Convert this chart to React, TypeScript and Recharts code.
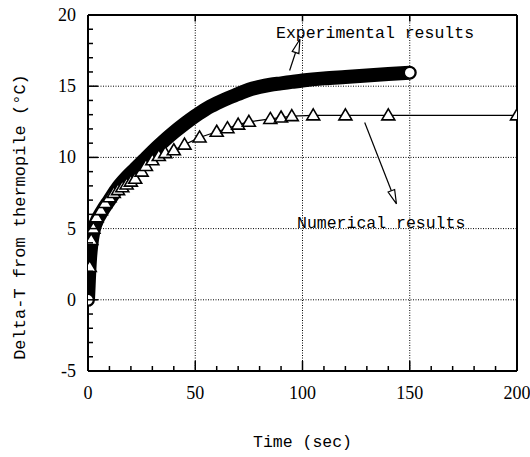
import React from "react";
import {
  LineChart,
  Line,
  XAxis,
  YAxis,
  ReferenceLine,
} from "recharts";

// experimental curve (thick black band)
const expTime = [0, 0.3, 0.6, 1, 1.5, 2.5, 4, 6.5, 10, 14, 18, 22, 26, 30, 35, 40, 45, 50, 55, 60, 65, 70, 75, 80, 85, 90, 95, 100, 110, 120, 130, 140, 150];
const expDelta = [0, 1.0, 2.0, 3.0, 3.8, 4.8, 5.5, 6.2, 7.0, 7.9, 8.6, 9.2, 9.8, 10.4, 11.1, 11.75, 12.35, 12.9, 13.4, 13.8, 14.15, 14.45, 14.75, 14.95, 15.1, 15.2, 15.3, 15.4, 15.55, 15.65, 15.75, 15.85, 15.95];

// numerical results (triangles)
const numTime = [0.8, 1.5, 2.5, 4, 6, 8, 10, 12, 14, 16, 18, 20, 22, 25, 27, 30, 33, 36, 40, 45, 52, 60, 65, 70, 75, 85, 90, 95, 105, 120, 140, 200];
const numDelta = [2.3, 4.2, 5.0, 5.8, 6.3, 6.8, 7.2, 7.5, 7.7, 7.9, 8.1, 8.3, 8.5, 9.0, 9.4, 9.8, 10.1, 10.3, 10.5, 10.9, 11.4, 11.8, 12.05, 12.3, 12.5, 12.7, 12.8, 12.9, 12.95, 12.95, 12.95, 12.95];

const xTicks = [0, 10, 20, 30, 40, 50, 60, 70, 80, 90, 100, 110, 120, 130, 140, 150, 160, 170, 180, 190, 200];
const yTicks = [-5, -4, -3, -2, -1, 0, 1, 2, 3, 4, 5, 6, 7, 8, 9, 10, 11, 12, 13, 14, 15, 16, 17, 18, 19, 20];
const xGrid = [50, 100, 150];
const yGrid = [0, 5, 10, 15];

const expData = expTime.map((t, i) => ({ t, v: expDelta[i] }));
const numData = numTime.map((t, i) => ({ t, v: numDelta[i] }));
const expEnds = [expData[0], expData[expData.length - 1]];

const MONO = "'Liberation Mono', 'DejaVu Sans Mono', monospace";
const SERIF = "'Liberation Serif', 'DejaVu Serif', serif";

const XTick = (props: any) => {
  const { x, y, payload } = props;
  const major = payload.value % 50 === 0;
  return (
    <g>
      <line x1={x} y1={y} x2={x} y2={y - (major ? 10 : 5)} stroke="#000" strokeWidth={1.5} />
      {major && (
        <text x={x} y={y + 28} textAnchor="middle" style={{ fontFamily: SERIF, fontSize: 18 }} fill="#000">
          {payload.value}
        </text>
      )}
    </g>
  );
};

const YTick = (props: any) => {
  const { x, y, payload } = props;
  const major = payload.value % 5 === 0;
  return (
    <g>
      <line x1={x} y1={y} x2={x + (major ? 10 : 5)} y2={y} stroke="#000" strokeWidth={1.5} />
      {major && (
        <text x={x - 12} y={y + 6} textAnchor="end" style={{ fontFamily: SERIF, fontSize: 18 }} fill="#000">
          {payload.value}
        </text>
      )}
    </g>
  );
};

const Triangle = (props: any) => {
  const { cx, cy, index } = props;
  if (cx == null || cy == null) return <g key={index} />;
  return (
    <path
      key={index}
      d={`M${cx},${cy - 6.5} L${cx + 6.5},${cy + 4.5} L${cx - 6.5},${cy + 4.5} Z`}
      fill="#fff"
      stroke="#000"
      strokeWidth={1.6}
    />
  );
};

const WhiteCircle = (props: any) => {
  const { cx, cy, index } = props;
  if (cx == null || cy == null) return <g key={index} />;
  return <circle key={index} cx={cx} cy={cy} r={5.5} fill="#fff" stroke="#000" strokeWidth={1.5} />;
};

const Arrow = (props: any) => {
  const { x1, y1, x2, y2 } = props;
  const dx = x2 - x1;
  const dy = y2 - y1;
  const len = Math.hypot(dx, dy) || 1;
  const ux = dx / len;
  const uy = dy / len;
  const hl = 14;
  const hw = 3.5;
  const bx = x2 - ux * hl;
  const by = y2 - uy * hl;
  const px = -uy;
  const py = ux;
  return (
    <g>
      <line x1={x1} y1={y1} x2={bx} y2={by} stroke="#000" strokeWidth={1.2} />
      <path
        d={`M${x2},${y2} L${bx + px * hw},${by + py * hw} L${bx - px * hw},${by - py * hw} Z`}
        fill="#fff"
        stroke="#000"
        strokeWidth={1.2}
      />
    </g>
  );
};

export default function App() {
  return (
    <div style={{ position: "absolute", left: 0, top: 0, width: 530, height: 457, background: "#fff" }}>
      <LineChart width={530} height={457} margin={{ top: 15, right: 13, left: 0, bottom: 0 }}>
        <XAxis
          dataKey="t"
          type="number"
          domain={[0, 200]}
          ticks={xTicks}
          interval={0}
          tickSize={0}
          tickMargin={0}
          tickLine={false}
          tick={<XTick />}
          height={86}
          axisLine={{ stroke: "#000", strokeWidth: 2 }}
          allowDataOverflow
          label={{
            value: "Time (sec)",
            position: "insideBottom",
            offset: 10,
            style: { fontFamily: MONO, fontSize: 16.5, fill: "#000" },
          }}
        />
        <YAxis
          dataKey="v"
          type="number"
          domain={[-5, 20]}
          ticks={yTicks}
          interval={0}
          tickSize={0}
          tickMargin={0}
          tickLine={false}
          tick={<YTick />}
          width={88}
          axisLine={{ stroke: "#000", strokeWidth: 2 }}
          allowDataOverflow
          label={{
            content: (p: any) => {
              const vb = p.viewBox || { x: 0, y: 15, width: 88, height: 356 };
              const cy = vb.y + vb.height / 2 + 24;
              return (
                <text
                  x={20}
                  y={cy}
                  transform={`rotate(-90 20 ${cy})`}
                  textAnchor="middle"
                  dominantBaseline="central"
                  style={{ fontFamily: MONO, fontSize: 17 }}
                  fill="#000"
                >
                  Delta-T from thermopile (°C)
                </text>
              );
            },
          }}
        />
        {xGrid.map((g) => (
          <ReferenceLine key={`gx${g}`} x={g} stroke="#000" strokeWidth={1} strokeDasharray="1 1.5" />
        ))}
        {yGrid.map((g) => (
          <ReferenceLine key={`gy${g}`} y={g} stroke="#000" strokeWidth={1} strokeDasharray="1 1.5" />
        ))}
        <ReferenceLine x={200} stroke="#000" strokeWidth={2} />
        <ReferenceLine y={20} stroke="#000" strokeWidth={2} />
        {xGrid.map((g) => (
          <ReferenceLine key={`tt${g}`} segment={[{ x: g, y: 20 }, { x: g, y: 19.55 }]} stroke="#000" strokeWidth={1.5} />
        ))}
        <Line
          data={expData}
          dataKey="v"
          type="monotone"
          stroke="#000"
          strokeWidth={14}
          strokeLinejoin="round"
          strokeLinecap="round"
          dot={false}
          isAnimationActive={false}
        />
        <Line
          data={numData}
          dataKey="v"
          type="linear"
          stroke="#000"
          strokeWidth={1.2}
          dot={<Triangle />}
          isAnimationActive={false}
        />
        <Line
          data={expEnds}
          dataKey="v"
          stroke="none"
          dot={<WhiteCircle />}
          isAnimationActive={false}
        />
        <ReferenceLine
          segment={[{ x: 94, y: 16.1 }, { x: 98.8, y: 18.3 }]}
          shape={(p: any) => <Arrow {...p} />}
        />
        <ReferenceLine
          segment={[{ x: 129, y: 12.45 }, { x: 143.8, y: 6.74 }]}
          shape={(p: any) => <Arrow {...p} />}
        />
      </LineChart>
      <svg
        width={530}
        height={457}
        style={{ position: "absolute", left: 0, top: 0, pointerEvents: "none" }}
      >
        <text x={276} y={37.5} style={{ fontFamily: MONO, fontSize: 16.5 }} fill="#000">
          Experimental results
        </text>
        <text x={297} y={228} style={{ fontFamily: MONO, fontSize: 16.5 }} fill="#000">
          Numerical results
        </text>
      </svg>
    </div>
  );
}
